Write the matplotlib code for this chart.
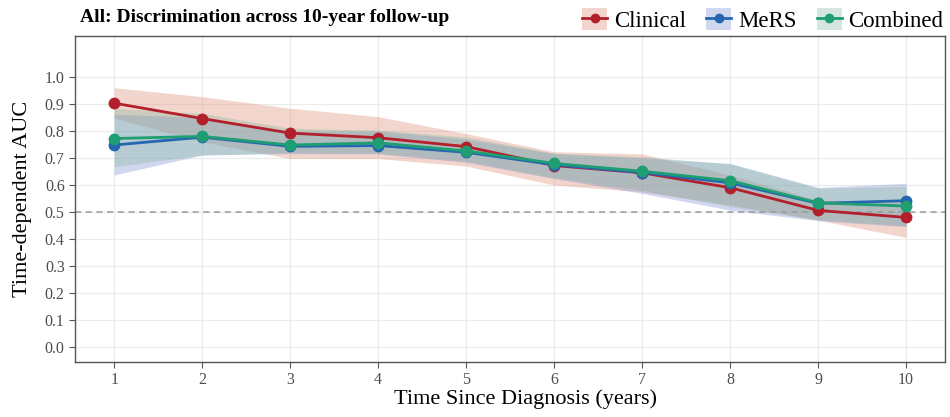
import matplotlib
matplotlib.use("Agg")
import matplotlib.pyplot as plt
from matplotlib.patches import Patch
from matplotlib.lines import Line2D
from matplotlib.legend_handler import HandlerTuple

plt.rcParams['font.family'] = ['Liberation Serif', 'DejaVu Serif']

years = [1, 2, 3, 4, 5, 6, 7, 8, 9, 10]

clinical_auc = [0.903, 0.846, 0.792, 0.775, 0.742, 0.672, 0.645, 0.590, 0.506, 0.480]
clinical_lo = [0.847, 0.760, 0.698, 0.698, 0.670, 0.600, 0.575, 0.526, 0.470, 0.406]
clinical_hi = [0.960, 0.927, 0.884, 0.853, 0.790, 0.723, 0.715, 0.637, 0.544, 0.538]

mers_auc = [0.748, 0.777, 0.743, 0.746, 0.721, 0.675, 0.646, 0.608, 0.532, 0.542]
mers_lo = [0.637, 0.711, 0.716, 0.715, 0.684, 0.624, 0.569, 0.507, 0.468, 0.446]
mers_hi = [0.862, 0.850, 0.800, 0.800, 0.770, 0.716, 0.700, 0.680, 0.591, 0.606]

comb_auc = [0.772, 0.780, 0.748, 0.756, 0.726, 0.680, 0.651, 0.616, 0.534, 0.522]
comb_lo = [0.668, 0.711, 0.720, 0.718, 0.688, 0.626, 0.580, 0.520, 0.472, 0.448]
comb_hi = [0.884, 0.865, 0.810, 0.803, 0.778, 0.718, 0.705, 0.678, 0.588, 0.595]

labels = ["Clinical", "MeRS", "Combined"]
line_colors = ["#B2202B", "#2466B0", "#1E9E72"]
fill_colors = ["#DA876D", "#7B8FD0", "#86B8A0"]

series = [
    (clinical_auc, clinical_lo, clinical_hi),
    (mers_auc, mers_lo, mers_hi),
    (comb_auc, comb_lo, comb_hi),
]

fig = plt.figure(figsize=(9.5, 4.17), dpi=100)
ax = fig.add_axes([0.079, 0.132, 0.916, 0.782])

for (auc, lo, hi), fc in zip(series, fill_colors):
    ax.fill_between(years, lo, hi, color=fc, alpha=0.35, linewidth=0, zorder=1)

ax.axhline(0.5, color="#999999", linestyle=(0, (4, 3)), linewidth=1.1, zorder=2)

for (auc, lo, hi), lc in zip(series, line_colors):
    ax.plot(years, auc, color=lc, linewidth=2.0, marker="o", markersize=7.5, zorder=3)

ax.set_xlim(0.555, 10.445)
ax.set_ylim(-0.055, 1.152)
ax.set_xticks(years)
ax.set_yticks([i / 10 for i in range(11)])
ax.set_yticklabels([f"{i/10:.1f}" for i in range(11)])
ax.grid(True, color="#EBEBEB", linewidth=0.9, zorder=0)
ax.set_axisbelow(True)
for s in ax.spines.values():
    s.set_color("#555555")
    s.set_linewidth(1.0)
ax.tick_params(axis="both", colors="#555555", labelcolor="#4D4D4D", labelsize=11.5,
               length=4, width=0.8)
ax.set_xlabel("Time Since Diagnosis (years)", fontsize=16)
ax.xaxis.set_label_coords(0.518, -0.085, transform=ax.transAxes)
ax.xaxis.label.set_va("top")
ax.set_ylabel("Time-dependent AUC", fontsize=16, labelpad=9)

fig.text(0.084, 0.958, "All: Discrimination across 10-year follow-up",
         fontsize=14, fontweight="bold", ha="left", va="center")

handles = []
for lc, fc in zip(line_colors, fill_colors):
    p = Patch(facecolor=fc, alpha=0.35, edgecolor="none")
    l = Line2D([], [], color=lc, linewidth=2.0, marker="o", markersize=6)
    handles.append((p, l))
fig.legend(handles, labels, handler_map={tuple: HandlerTuple(ndivide=1, pad=0)},
           loc="upper right", bbox_to_anchor=(1.015, 1.03), ncol=3, frameon=False,
           fontsize=16.5, handlelength=1.1, handleheight=1.1, columnspacing=0.87,
           handletextpad=0.3)

fig.savefig("out.png", dpi=100)
